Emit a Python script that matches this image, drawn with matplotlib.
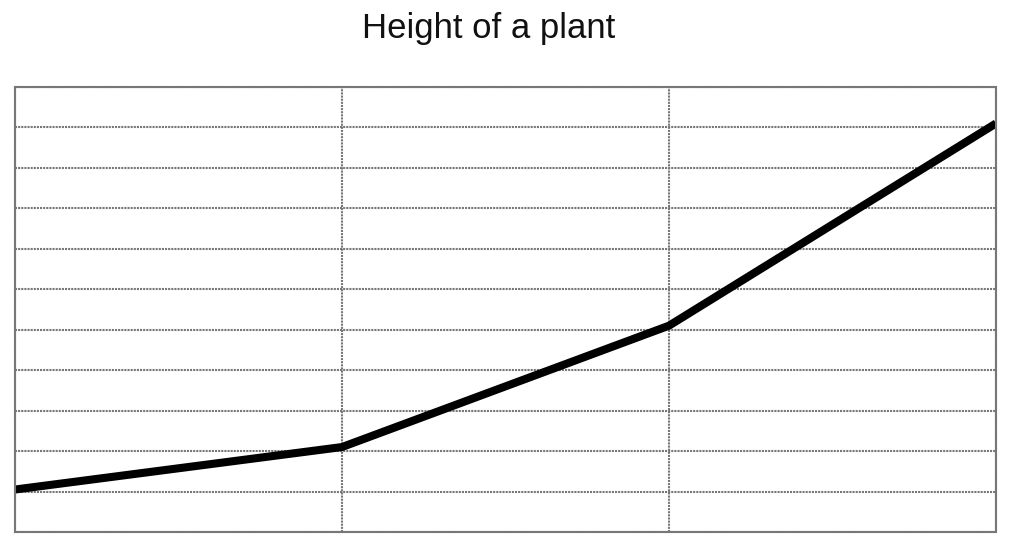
import matplotlib
matplotlib.use('Agg')
import matplotlib.pyplot as plt

# plant height readings (grid units), one per vertical grid line
weeks = [0, 1, 2, 3]
heights = [1.05, 2.1, 5.1, 10.1]

W, H = 1014, 538
fig = plt.figure(figsize=(W / 100, H / 100), dpi=100)
fig.patch.set_facecolor('white')

# axes placed to match the scanned grid
left, right, top, bottom = 15, 996, 87, 532
ax = fig.add_axes([left / W, 1 - bottom / H, (right - left) / W, (bottom - top) / H])

ax.plot(weeks, heights, color='black', linewidth=5.8, solid_capstyle='butt',
        solid_joinstyle='round')

ax.set_xlim(0, 3)
ax.set_ylim(0, 11)
ax.set_xticks(range(0, 4))
ax.set_yticks(range(0, 12))
ax.grid(True, color='#777777', linewidth=1.5, linestyle=(0, (1, 0.5)))
ax.tick_params(length=0, labelbottom=False, labelleft=False)
for s in ax.spines.values():
    s.set_color('#777777')
    s.set_linewidth(1.5)
    s.set_linestyle((0, (1, 0.5)))

fig.text(489 / W, 1 - 38 / H, 'Height of a plant', ha='center', va='baseline',
         fontsize=25, family='Liberation Sans', color='#111111')

plt.savefig('out.png', dpi=100)
